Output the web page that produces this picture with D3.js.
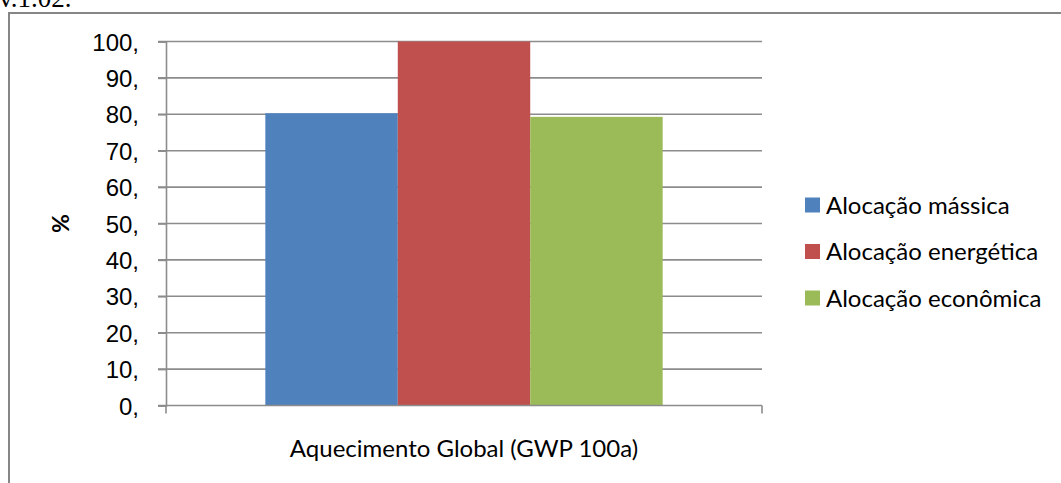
<!DOCTYPE html>
<html>
<head>
<meta charset="utf-8">
<script src="https://cdn.jsdelivr.net/npm/d3@7"></script>
<style>
  body { margin: 0; background: #fff; }
  svg { display: block; font-family: Lato, "Open Sans", sans-serif; }
</style>
</head>
<body>
<svg id="chart" width="1061" height="483"></svg>
<script>
// chart data
var categories = ["Aquecimento Global (GWP 100a)"]
var seriesNames = ["Alocação mássica", "Alocação energética", "Alocação econômica"]
var seriesValues = [80.3, 100, 79.3]
var seriesColors = ["#4F81BD", "#C0504D", "#9BBB59"]
var yTicks = [0, 10, 20, 30, 40, 50, 60, 70, 80, 90, 100]
var yTitle = "%"

var svg = d3.select("#chart")

// header text, mostly cut off at top (as in the source page)
svg.append("text")
    .attr("x", -1).attr("y", 7)
    .style("font-family", "'Liberation Serif', serif")
    .style("font-size", "27px")
    .text("v.1.02.")

// outer frame
svg.append("rect")
    .attr("x", 9).attr("y", 13)
    .attr("width", 1070).attr("height", 500)
    .attr("fill", "none")
    .attr("stroke", "#868686")
    .attr("stroke-width", 2)

var plot = {left: 166, right: 762, top: 41.5, bottom: 405.5}

var x = d3.scaleBand()
    .domain(categories)
    .range([plot.left, plot.right])

// excel-style: group width = band / 1.5 (gap width 50%)
var groupW = x.bandwidth() / 1.5
var xs = d3.scaleBand()
    .domain(seriesNames)
    .range([0, groupW])

var y = d3.scaleLinear().domain([0, 100]).range([plot.bottom, plot.top])

var g = svg.append("g")

// gridlines
g.selectAll(".grid").data(yTicks.filter(function(d) { return d > 0 })).enter()
    .append("line")
    .attr("x1", plot.left - 8).attr("x2", plot.right)
    .attr("y1", function(d) { return y(d) }).attr("y2", function(d) { return y(d) })
    .attr("stroke", "#8c8c8c")
    .attr("stroke-width", 1.6)

// bars
var groupX = x(categories[0]) + x.bandwidth() / 2 - groupW / 2
g.selectAll(".bar").data(seriesValues).enter()
    .append("rect")
    .attr("x", function(d, i) { return groupX + xs(seriesNames[i]) })
    .attr("width", xs.bandwidth())
    .attr("y", function(d) { return y(d) })
    .attr("height", function(d) { return y(0) - y(d) })
    .attr("fill", function(d, i) { return seriesColors[i] })

// y axis
var yAxis = d3.axisLeft(y).tickValues(yTicks).tickSize(8)
    .tickFormat(function(d) { return d + "," })
var ya = svg.append("g")
    .attr("transform", "translate(" + plot.left + ",0)")
    .call(yAxis)
ya.select(".domain").attr("stroke", "#8c8c8c").attr("stroke-width", 1.6)
ya.selectAll(".tick line").attr("stroke", "#8c8c8c").attr("stroke-width", 1.6)
ya.selectAll(".tick text")
    .attr("fill", "#000")
    .style("font-size", "24px")
    .attr("x", -27)
    .attr("dy", "0.36em")

// x axis
svg.append("line")
    .attr("x1", plot.left - 8).attr("x2", plot.right)
    .attr("y1", plot.bottom).attr("y2", plot.bottom)
    .attr("stroke", "#8c8c8c").attr("stroke-width", 1.6)
svg.selectAll(".xtick").data([plot.left, plot.right]).enter()
    .append("line")
    .attr("x1", function(d) { return d }).attr("x2", function(d) { return d })
    .attr("y1", plot.bottom).attr("y2", plot.bottom + 8)
    .attr("stroke", "#8c8c8c").attr("stroke-width", 1.6)

svg.selectAll(".xlabel").data(categories).enter()
    .append("text")
    .attr("x", function(d) { return x(d) + x.bandwidth() / 2 })
    .attr("y", 457)
    .attr("text-anchor", "middle")
    .style("font-size", "24px")
    .text(function(d) { return d })

// y title
svg.append("text")
    .attr("transform", "translate(69," + ((plot.top + plot.bottom) / 2) + ") rotate(-90)")
    .attr("text-anchor", "middle")
    .style("font-size", "23px")
    .style("font-weight", "bold")
    .text(yTitle)

// legend
var legend = svg.selectAll(".legend").data(seriesNames).enter()
    .append("g")
    .attr("transform", function(d, i) { return "translate(805," + (205 + i * 46.5) + ")" })
legend.append("rect")
    .attr("x", 0).attr("y", -7.5)
    .attr("width", 15).attr("height", 15)
    .attr("fill", function(d, i) { return seriesColors[i] })
legend.append("text")
    .attr("x", 21).attr("y", 0)
    .attr("dy", "0.36em")
    .style("font-size", "24px")
    .text(function(d) { return d })
</script>
</body>
</html>
